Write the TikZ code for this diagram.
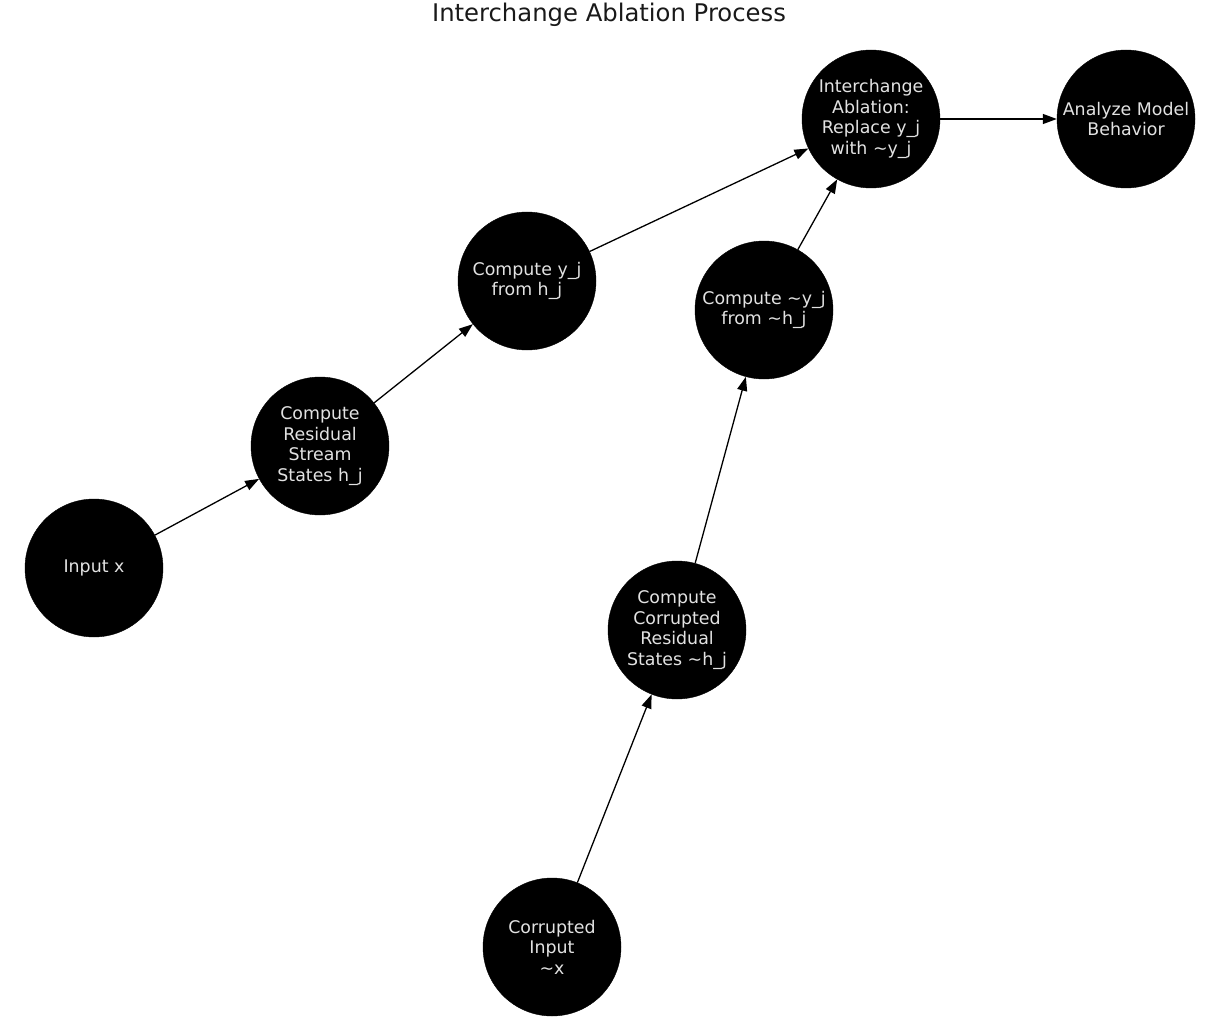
\documentclass[tikz,border=0pt]{standalone}
\usepackage{fontspec}
\setmainfont{DejaVu Sans}
\usetikzlibrary{arrows.meta}
\definecolor{txt}{HTML}{E2E2E2}
\tikzset{
  proc/.style={circle, fill=black, draw=black, minimum size=138pt, inner sep=0pt,
    text=txt, align=center, font=\fontsize{17.4}{20.5}\selectfont},
  conn/.style={draw=black, line width=1.3pt, -{Triangle[length=14pt,width=10pt]}, shorten >=0pt}
}
\begin{document}
\begin{tikzpicture}[x=1pt,y=-1pt]
\useasboundingbox (0,0) rectangle (1218,1027);
\node[font=\fontsize{24.3}{28}\selectfont, text=black!90] (title) at (609,15) {Interchange Ablation Process};
\node[proc] (inp) at (94,568) {Input x};
\node[proc] (res) at (320,446) {Compute\\Residual\\Stream\\States h\_j};
\node[proc] (yj) at (527,281) {Compute y\_j\\from h\_j};
\node[proc] (ia) at (871,119) {Interchange\\Ablation:\\Replace y\_j\\with \textasciitilde y\_j};
\node[proc] (an) at (1126,119) {Analyze Model\\Behavior};
\node[proc] (tyj) at (764,310) {Compute \textasciitilde y\_j\\from \textasciitilde h\_j};
\node[proc] (cres) at (677,630) {Compute\\Corrupted\\Residual\\States \textasciitilde h\_j};
\node[proc] (cin) at (552,947) {Corrupted\\Input\\\textasciitilde x};
\draw[conn] (inp) -- (res);
\draw[conn] (res) -- (yj);
\draw[conn] (yj) -- (ia);
\draw[conn] (ia) -- (an);
\draw[conn] (cin) -- (cres);
\draw[conn] (cres) -- (tyj);
\draw[conn] (tyj) -- (ia);
\end{tikzpicture}
\end{document}
